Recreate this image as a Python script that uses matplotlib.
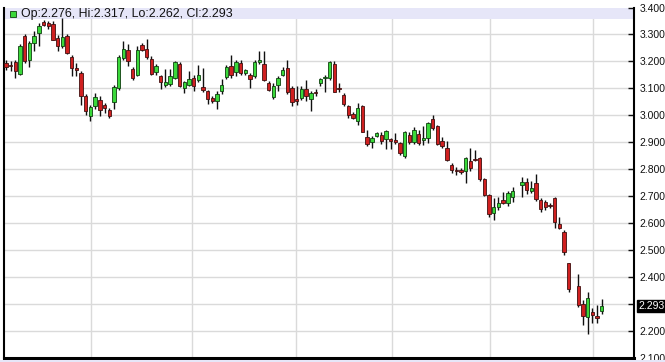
import numpy as np
import matplotlib
matplotlib.use("Agg")
import matplotlib.pyplot as plt
import matplotlib.transforms as mtransforms
from matplotlib.patches import Rectangle

# daily OHLC (nan = no session)
opens = [3.194, 3.188, 3.198, 3.153, 3.293, 3.207, 3.269, 3.306, 3.345, 3.342,
         3.340, 3.287, 3.256, 3.293, 3.215, 3.175, 3.157, 3.070, 2.996, 3.033,
         3.058, 3.037, 3.021, 3.048, 3.101, 3.213, 3.241, 3.172, 3.151, 3.262,
         3.246, 3.209, 3.160, 3.145, 3.114, 3.118, 3.139, 3.192, 3.101, 3.114,
         3.138, 3.130, 3.105, 3.089, 3.064, 3.052, 3.089, 3.142, 3.184, 3.160,
         3.194, 3.157, 3.151, 3.147, 3.197, 3.192, 3.120, 3.068, 3.114, 3.151,
         3.176, 3.101, 3.062, 3.064, 3.098, 3.060, 3.087, 3.120, 3.140, 3.139,
         3.191, 3.102, 3.077, 3.033, 3.005, 2.980, 3.033, 2.918, 2.901, 2.925,
         2.928, 2.913, 2.910, 2.906, 2.897, 2.851, 2.928, 2.901, 2.930, 2.909,
         2.915, 2.986, 2.961, 2.903, 2.878, 2.816, 2.797, 2.795, 2.795, 2.829,
         2.838, 2.841, 2.763, 2.705, 2.637, 2.659, 2.686, 2.674, 2.696, np.nan,
         2.740, 2.751, 2.720, 2.748, 2.686, 2.680, 2.668, 2.692, 2.596, 2.566,
         2.451, np.nan, 2.368, 2.302, 2.253, 2.271, 2.253, 2.276]
highs = [3.207, 3.203, 3.207, 3.265, 3.300, 3.275, 3.312, 3.343, 3.355, 3.350,
         3.350, 3.297, 3.360, 3.300, 3.222, 3.194, 3.163, 3.079, 3.040, 3.083,
         3.070, 3.045, 3.027, 3.114, 3.225, 3.275, 3.266, 3.180, 3.256, 3.269,
         3.284, 3.219, 3.190, 3.150, 3.172, 3.172, 3.200, 3.197, 3.128, 3.163,
         3.151, 3.188, 3.176, 3.095, 3.072, 3.089, 3.135, 3.188, 3.225, 3.204,
         3.207, 3.172, 3.158, 3.204, 3.238, 3.238, 3.128, 3.120, 3.147, 3.180,
         3.204, 3.108, 3.108, 3.108, 3.132, 3.090, 3.098, 3.138, 3.151, 3.200,
         3.200, 3.120, 3.083, 3.040, 3.012, 3.046, 3.040, 2.947, 2.922, 2.938,
         2.938, 2.947, 2.916, 2.935, 2.900, 2.943, 2.938, 2.955, 2.946, 2.962,
         2.974, 3.002, 2.966, 2.921, 2.903, 2.823, 2.808, 2.805, 2.847, 2.878,
         2.872, 2.845, 2.768, 2.708, 2.692, 2.696, 2.717, 2.721, 2.736, np.nan,
         2.773, 2.769, 2.757, 2.782, 2.692, 2.686, 2.675, 2.698, 2.624, 2.575,
         2.452, np.nan, 2.410, 2.315, 2.345, 2.284, 2.296, 2.317]
lows = [3.170, 3.163, 3.139, 3.151, 3.194, 3.178, 3.238, 3.256, 3.332, 3.320,
        3.280, 3.238, 3.248, 3.228, 3.145, 3.145, 3.040, 3.002, 2.978, 3.022,
        2.996, 3.010, 2.990, 3.023, 3.095, 3.205, 3.184, 3.130, 3.145, 3.240,
        3.209, 3.151, 3.150, 3.098, 3.105, 3.110, 3.135, 3.105, 3.083, 3.108,
        3.089, 3.125, 3.085, 3.043, 3.045, 3.023, 3.080, 3.135, 3.139, 3.147,
        3.150, 3.150, 3.101, 3.140, 3.190, 3.126, 3.090, 3.060, 3.089, 3.145,
        3.080, 3.036, 3.040, 3.058, 3.052, 3.015, 3.070, 3.108, 3.087, 3.130,
        3.085, 3.087, 3.033, 2.990, 2.985, 2.965, 2.938, 2.888, 2.878, 2.918,
        2.895, 2.876, 2.876, 2.895, 2.852, 2.841, 2.895, 2.893, 2.890, 2.891,
        2.897, 2.945, 2.890, 2.880, 2.829, 2.785, 2.780, 2.782, 2.748, 2.792,
        2.830, 2.758, 2.702, 2.624, 2.612, 2.650, 2.670, 2.662, 2.680, np.nan,
        2.699, 2.707, 2.712, 2.682, 2.643, 2.649, 2.655, 2.583, 2.578, 2.482,
        2.345, np.nan, 2.290, 2.224, 2.190, 2.228, 2.230, 2.262]
closes = [3.180, 3.182, 3.163, 3.256, 3.201, 3.269, 3.293, 3.331, 3.336, 3.333,
          3.281, 3.256, 3.290, 3.231, 3.176, 3.171, 3.070, 3.015, 3.030, 3.067,
          3.021, 3.027, 2.999, 3.105, 3.216, 3.246, 3.200, 3.138, 3.244, 3.244,
          3.217, 3.155, 3.182, 3.122, 3.122, 3.147, 3.197, 3.110, 3.122, 3.135,
          3.107, 3.151, 3.093, 3.060, 3.052, 3.080, 3.114, 3.179, 3.151, 3.197,
          3.157, 3.167, 3.135, 3.197, 3.204, 3.132, 3.095, 3.107, 3.138, 3.167,
          3.085, 3.048, 3.058, 3.098, 3.073, 3.083, 3.085, 3.136, 3.145, 3.198,
          3.087, 3.100, 3.042, 3.000, 2.990, 3.027, 2.940, 2.893, 2.916, 2.933,
          2.903, 2.943, 2.908, 2.905, 2.860, 2.938, 2.901, 2.946, 2.897, 2.915,
          2.971, 2.953, 2.894, 2.887, 2.835, 2.798, 2.795, 2.793, 2.841, 2.804,
          2.836, 2.763, 2.705, 2.634, 2.661, 2.676, 2.676, 2.711, 2.721, np.nan,
          2.754, 2.723, 2.732, 2.690, 2.653, 2.661, 2.666, 2.603, 2.583, 2.492,
          2.355, np.nan, 2.298, 2.256, 2.321, 2.259, 2.252, 2.293]

price_ticks = np.arange(2.1, 3.41, 0.1)
month_breaks = [18.1, 39.7, 61.8, 82.3, 103.3, 125.1]

UP = "#3ad83a"
DOWN = "#d02020"
BAND = "#e6e6f8"

o = np.array(opens)
h = np.array(highs)
l = np.array(lows)
c = np.array(closes)
x = np.arange(len(o))

W, H = 665, 362
fig = plt.figure(figsize=(W / 100, H / 100), dpi=100)
ax = fig.add_axes([4 / W, 4 / H, 630 / W, 350.5 / H])

ax.set_ylim(2.1, 3.4)
ax.set_xlim(-0.43, 133.9)

# grid
for p in price_ticks:
    ax.axhline(p, color="#dadada", lw=1, zorder=0)
for m in month_breaks:
    ax.axvline(m, color="#dadada", lw=1, zorder=0)

# legend strip at top
ax.axhspan(3.359, 3.4, color=BAND, zorder=1, lw=0)

ok = ~np.isnan(o)
up = ok & (c >= o)
dn = ok & (c < o)
ax.vlines(x[ok], l[ok], h[ok], color="#101010", lw=1, zorder=2)
body = np.maximum(np.abs(c - o), 0.006)
bottom = np.minimum(o, c) - np.where(np.abs(c - o) < 0.006, 0.003, 0)
ax.bar(x[up], body[up], bottom=bottom[up], width=0.72, color=UP,
       edgecolor="#104010", lw=0.6, zorder=3)
ax.bar(x[dn], body[dn], bottom=bottom[dn], width=0.72, color=DOWN,
       edgecolor="#401010", lw=0.6, zorder=3)

# axes look
ax.spines["top"].set_visible(False)
ax.spines["left"].set_linewidth(1.5)
ax.spines["right"].set_linewidth(1.5)
ax.spines["bottom"].set_linewidth(2.2)
ax.set_xticks([])
ax.yaxis.tick_right()
ax.set_yticks(price_ticks)
ax.set_yticklabels(["%.3f" % p for p in price_ticks])
ax.tick_params(axis="y", direction="in", length=4, width=1, pad=4,
               labelsize=7.5, colors="#111111")
for t in ax.get_yticklabels():
    t.set_family("Liberation Sans")

# last price marker
trans = mtransforms.blended_transform_factory(ax.transAxes, ax.transData)
ax.text(1.0065, closes[-1], "%.3f" % closes[-1], transform=trans,
        ha="left", va="center", fontsize=7.5, family="Liberation Sans",
        color="white", zorder=5,
        bbox=dict(boxstyle="square,pad=0.1", fc="black", ec="black"))

# OHLC legend
last = "Op:%.3f, Hi:%.3f, Lo:%.3f, Cl:%.3f" % (opens[-1], highs[-1], lows[-1], closes[-1])
fig.patches.append(Rectangle((10 / W, 1 - 17 / H), 6 / W, 6 / H,
                             transform=fig.transFigure, fc=UP, ec="#104010", lw=0.6))
fig.text(21 / W, 1 - 14.3 / H, last, ha="left", va="center", fontsize=8.9,
         family="Liberation Sans", color="#111111")

# strip below the plot
fig.patches.append(Rectangle((0, 0), 1, 2.5 / H, transform=fig.transFigure,
                             fc=BAND, ec="none"))

fig.savefig("out.png", dpi=100)
